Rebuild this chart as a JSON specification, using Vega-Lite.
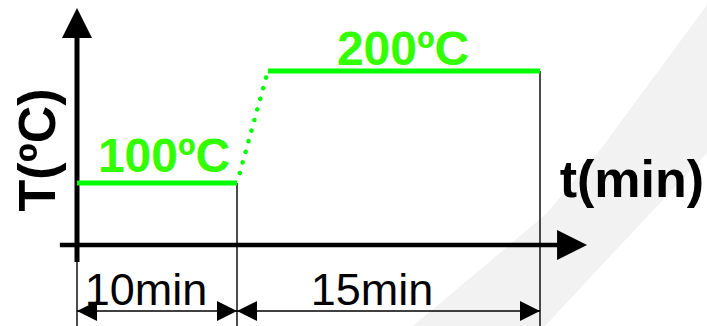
{
  "$schema": "https://vega.github.io/schema/vega-lite/v6.json",
  "width": 707,
  "height": 326,
  "padding": 0,
  "autosize": {"type": "none"},
  "background": "#ffffff",
  "config": {"view": {"stroke": null}},
  "datasets": {
    "band": [
      {"t": 18.71, "T": -130.6, "T2": -130.6},
      {"t": 25.25, "T": -130.6, "T2": 48.4},
      {"t": 27.97, "T": -35.5, "T2": 129.5},
      {"t": 33.27, "T": 126.8, "T2": 258.9}
    ],
    "axisV": [{"t": 0, "T": -27.4, "t2": 0, "T2": 229.5}],
    "axisH": [{"t": -1.07, "T": 0, "t2": 26.5, "T2": 0}],
    "guides": [
      {"t": 0, "T": -27.4, "t2": 0, "T2": -131},
      {"t": 10, "T": 100, "t2": 10, "T2": -131},
      {"t": 25, "T": 200, "t2": 25, "T2": -131},
      {"t": 0, "T": -106.5, "t2": 10, "T2": -106.5},
      {"t": 10, "T": -106.5, "t2": 25, "T2": -106.5}
    ],
    "holds": [
      {"t": 0, "T": 100, "t2": 10, "T2": 100},
      {"t": 11.53, "T": 200, "t2": 25, "T2": 200}
    ],
    "ramp": [{"t": 10, "T": 100, "t2": 11.53, "T2": 200}],
    "arrowUp": [{"t": 0, "T": 256.25}],
    "arrowRight": [{"t": 27.33, "T": 0}],
    "dimLeft": [{"t": 0, "T": -106.5}, {"t": 10, "T": -106.5}],
    "dimRight": [{"t": 10, "T": -106.5}, {"t": 25, "T": -106.5}],
    "labelY": [{"t": -1.375, "T": 129.5, "label": "T(ºC)"}],
    "labelX": [{"t": 29.55, "T": 77.4, "label": "t(min)"}],
    "temps": [
      {"t": 5.44, "T": 109.7, "label": "100ºC"},
      {"t": 18.22, "T": 205.4, "label": "200ºC"}
    ],
    "durations": [
      {"t": 4.31, "T": -96.8, "label": "10min"},
      {"t": 16.68, "T": -96.8, "label": "15min"}
    ]
  },
  "encoding": {
    "x": {"field": "t", "type": "quantitative", "axis": null,
          "scale": {"domain": [0, 10, 25], "range": [77, 237, 540], "nice": false, "zero": false}},
    "y": {"field": "T", "type": "quantitative", "axis": null,
          "scale": {"domain": [0, 100, 200], "range": [245, 183, 71], "nice": false, "zero": false}}
  },
  "layer": [
    {"data": {"name": "band"}, "mark": {"type": "area", "color": "#f2f2f2", "opacity": 1},
     "encoding": {"y2": {"field": "T2"}}},
    {"data": {"name": "guides"}, "mark": {"type": "rule", "color": "#000000", "strokeWidth": 1.4},
     "encoding": {"x2": {"field": "t2"}, "y2": {"field": "T2"}}},
    {"data": {"name": "axisV"}, "mark": {"type": "rule", "color": "#000000", "strokeWidth": 5},
     "encoding": {"x2": {"field": "t2"}, "y2": {"field": "T2"}}},
    {"data": {"name": "axisH"}, "mark": {"type": "rule", "color": "#000000", "strokeWidth": 4.5},
     "encoding": {"x2": {"field": "t2"}, "y2": {"field": "T2"}}},
    {"data": {"name": "holds"}, "mark": {"type": "rule", "color": "#00ff00", "strokeWidth": 5},
     "encoding": {"x2": {"field": "t2"}, "y2": {"field": "T2"}}},
    {"data": {"name": "ramp"}, "mark": {"type": "rule", "color": "#00ff00", "strokeWidth": 4.5, "strokeCap": "round", "strokeDash": [0.1, 10.9], "strokeDashOffset": 0.7},
     "encoding": {"x2": {"field": "t2"}, "y2": {"field": "T2"}}},
    {"data": {"name": "arrowUp"}, "mark": {"type": "point", "shape": "M0,0L-1,2L1,2Z", "size": 900, "filled": true, "color": "#000000", "opacity": 1, "strokeWidth": 0}},
    {"data": {"name": "arrowRight"}, "mark": {"type": "point", "shape": "M0,0L-2,-1L-2,1Z", "size": 900, "filled": true, "color": "#000000", "opacity": 1, "strokeWidth": 0}},
    {"data": {"name": "dimLeft"}, "mark": {"type": "point", "shape": "M0,0L2,-1L2,1Z", "size": 400, "filled": true, "color": "#000000", "opacity": 1, "strokeWidth": 0}},
    {"data": {"name": "dimRight"}, "mark": {"type": "point", "shape": "M0,0L-2,-1L-2,1Z", "size": 400, "filled": true, "color": "#000000", "opacity": 1, "strokeWidth": 0}},
    {"data": {"name": "labelY"}, "mark": {"type": "text", "font": "Liberation Sans", "fontWeight": "bold", "fontSize": 52, "angle": 270, "align": "center", "baseline": "alphabetic", "color": "#000000"},
     "encoding": {"text": {"field": "label"}}},
    {"data": {"name": "labelX"}, "mark": {"type": "text", "font": "Liberation Sans", "fontWeight": "bold", "fontSize": 52, "align": "center", "baseline": "alphabetic", "color": "#000000"},
     "encoding": {"text": {"field": "label"}}},
    {"data": {"name": "temps"}, "mark": {"type": "text", "font": "Liberation Sans", "fontWeight": "bold", "fontSize": 48, "align": "center", "baseline": "alphabetic", "color": "#33ff00"},
     "encoding": {"text": {"field": "label"}}},
    {"data": {"name": "durations"}, "mark": {"type": "text", "font": "Liberation Sans", "fontSize": 45, "align": "center", "baseline": "alphabetic", "color": "#000000"},
     "encoding": {"text": {"field": "label"}}}
  ]
}
